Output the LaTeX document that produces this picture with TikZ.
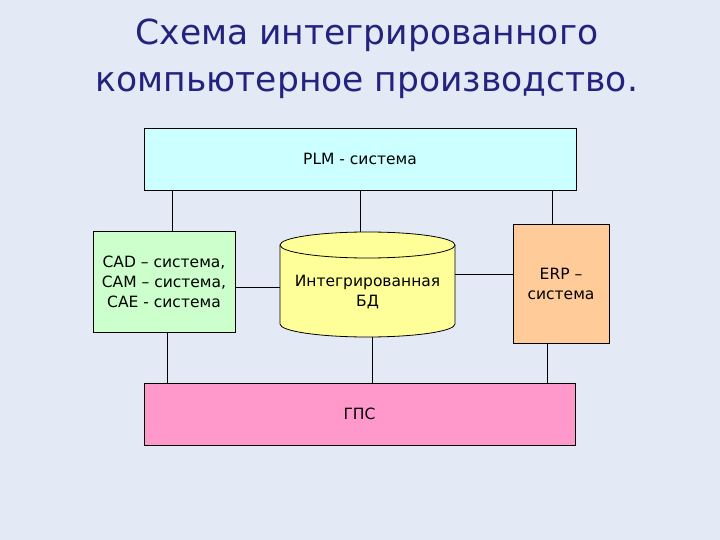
\documentclass[tikz,border=0pt]{standalone}
\usepackage{fontspec}
\setmainfont{DejaVu Sans}
\definecolor{bg}{HTML}{E3EAF5}
\definecolor{titlec}{HTML}{23237F}
\definecolor{plmc}{HTML}{CCFFFF}
\definecolor{cadc}{HTML}{CCFFCC}
\definecolor{dbc}{HTML}{FFFF99}
\definecolor{erpc}{HTML}{FFCC99}
\definecolor{gpsc}{HTML}{FF99CC}
\begin{document}
\begin{tikzpicture}[x=1pt,y=-1pt,
  body/.style={font=\fontsize{15.5}{20}\selectfont},
  box/.style={draw=black, line width=0.8pt, inner sep=0pt, align=center, body},
  titletext/.style={titlec, inner sep=0pt, anchor=base, font=\fontsize{34.5}{40}\selectfont},
  link/.style={draw=black, line width=0.8pt}]
\fill[bg] (0,0) rectangle (720,540);
\useasboundingbox (0,0) rectangle (720,540);
\node[titletext] (title1) at (367,45) {Схема интегрированного};
\node[titletext] (title2) at (367,92) {компьютерное производство.};
\node[box, fill=plmc, minimum width=432, minimum height=62] (plm) at (360,159) {PLM - система};
\node[box, fill=cadc, minimum width=142, minimum height=101] (cad) at (164,281.5) {CAD -- система,\\CAM -- система,\\CAE - система};
\node[box, fill=erpc, minimum width=96, minimum height=119] (erp) at (561,283.5) {ERP --\\система};
\node[box, fill=gpsc, minimum width=431, minimum height=62] (gps) at (359.5,414) {ГПС};
% cylinder
\fill[dbc] (280,245) -- (280,324) arc[start angle=180, end angle=0, x radius=87.5, y radius=13] -- (455,245) arc[start angle=0, end angle=-180, x radius=87.5, y radius=13] -- cycle;
\draw[line width=0.8pt] (280,245) -- (280,324) arc[start angle=180, end angle=0, x radius=87.5, y radius=13] -- (455,245);
\draw[line width=0.8pt] (367.5,245) ellipse[x radius=87.5, y radius=13];
\node[inner sep=0pt, minimum width=175, minimum height=105] (db) at (367.5,284.5) {};
\node[align=center, inner sep=0pt, body] (dbtext) at (367.5,292) {Интегрированная\\БД};
% connectors
\draw[link] (plm.south -| 172,0) -- (cad.north -| 172,0);
\draw[link] (plm.south -| 360,0) -- (db.north -| 360,0);
\draw[link] (plm.south -| 552,0) -- (erp.north -| 552,0);
\draw[link] (cad.east |- 0,287) -- (db.west |- 0,287);
\draw[link] (db.east |- 0,274) -- (erp.west |- 0,274);
\draw[link] (cad.south -| 167,0) -- (gps.north -| 167,0);
\draw[link] (db.south -| 372,0) -- (gps.north -| 372,0);
\draw[link] (erp.south -| 547,0) -- (gps.north -| 547,0);
\end{tikzpicture}
\end{document}
